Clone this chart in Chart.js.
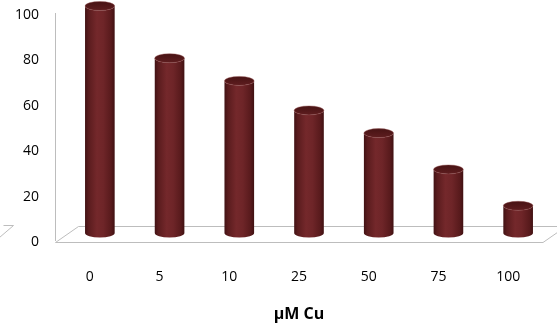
<!DOCTYPE html>
<html>
<head>
<meta charset="utf-8">
<script src="https://cdn.jsdelivr.net/npm/chart.js@4/dist/chart.umd.min.js"></script>
<style>
  html, body { margin: 0; padding: 0; background: #ffffff; }
  canvas { display: block; }
</style>
</head>
<body>
<canvas id="chart" width="557" height="328"></canvas>
<script>
// Copper concentration series
const categories = ['0', '5', '10', '25', '50', '75', '100'];
const values = [100, 77, 67, 54, 44, 28, 12];
const yTicks = [0, 20, 40, 60, 80, 100];
const axisTitle = 'μM Cu';

// Oblique projection used for the floor and the cylinder placement
const DEPTH_X = 23;
const DEPTH_Y = 16;
const LINE_GREY = '#bdbdbd';

// Floor plane drawn behind the cylinders
const floorPlugin = {
  id: 'floor',
  beforeDatasetsDraw(chart) {
    const { ctx, chartArea, scales } = chart;
    const f = Math.round(scales.y.getPixelForValue(0)) + 2.5;
    const l = chartArea.left + 0.5;
    const r = chartArea.right;
    ctx.save();
    ctx.strokeStyle = LINE_GREY;
    ctx.lineWidth = 1;
    ctx.beginPath();
    ctx.moveTo(l, f);
    ctx.lineTo(r, f);
    ctx.lineTo(r + DEPTH_X, f - DEPTH_Y);
    ctx.lineTo(l + DEPTH_X, f - DEPTH_Y);
    ctx.closePath();
    ctx.stroke();
    // small corner piece at the far left edge
    ctx.beginPath();
    ctx.moveTo(l - 52, f - 17);
    ctx.lineTo(l - 42, f - 17);
    ctx.lineTo(l - 56, f - 5);
    ctx.stroke();
    ctx.restore();
  }
};

// Cylinders drawn from each bar element's own geometry
const cylinderPlugin = {
  id: 'cylinders',
  afterDatasetsDraw(chart) {
    const { ctx } = chart;
    const meta = chart.getDatasetMeta(0);
    ctx.save();
    meta.data.forEach((el) => {
      const p = el.getProps(['x', 'y', 'base', 'width'], true);
      const cx = p.x + DEPTH_X / 2 - 1.5;
      const shift = -DEPTH_Y / 2 + 1;
      const top = p.y + shift;
      const base = p.base + shift;
      const rx = p.width / 2;
      const ry = 4.5;

      const g = ctx.createLinearGradient(cx - rx, 0, cx + rx, 0);
      g.addColorStop(0, '#421214');
      g.addColorStop(0.12, '#5a1c1e');
      g.addColorStop(0.4, '#74282b');
      g.addColorStop(0.62, '#6e2528');
      g.addColorStop(0.88, '#581a1c');
      g.addColorStop(1, '#401112');

      ctx.beginPath();
      ctx.moveTo(cx - rx, top);
      ctx.lineTo(cx - rx, base);
      ctx.ellipse(cx, base, rx, ry, 0, Math.PI, 0, true);
      ctx.lineTo(cx + rx, top);
      ctx.ellipse(cx, top, rx, ry, 0, 0, Math.PI, false);
      ctx.closePath();
      ctx.fillStyle = g;
      ctx.fill();

      const gt = ctx.createLinearGradient(0, top - ry, 0, top + ry);
      gt.addColorStop(0, '#471314');
      gt.addColorStop(1, '#5e1d1f');
      ctx.beginPath();
      ctx.ellipse(cx, top, rx, ry, 0, 0, Math.PI * 2);
      ctx.fillStyle = gt;
      ctx.fill();
      ctx.strokeStyle = 'rgba(150,80,80,0.5)';
      ctx.lineWidth = 0.8;
      ctx.stroke();
    });
    ctx.restore();
  }
};

Chart.defaults.color = '#000000';
Chart.defaults.font.family = '"Open Sans", "Noto Sans", sans-serif';

new Chart(document.getElementById('chart'), {
  type: 'bar',
  data: {
    labels: categories,
    datasets: [{
      data: values,
      backgroundColor: 'rgba(0,0,0,0)',
      borderWidth: 0,
      barPercentage: 0.85,
      categoryPercentage: 0.5
    }]
  },
  options: {
    responsive: false,
    animation: false,
    devicePixelRatio: 1,
    layout: { padding: { top: 13, right: 14, bottom: 0, left: 0 } },
    plugins: { legend: { display: false }, tooltip: { enabled: false } },
    scales: {
      x: {
        grid: { display: false, drawTicks: false },
        border: { display: false },
        ticks: { padding: 29, font: { size: 14 } },
        title: {
          display: true,
          text: axisTitle,
          font: { size: 16, weight: 'bold' },
          padding: { top: 0, bottom: 4 }
        },
        afterFit(scale) { scale.height = 88; }
      },
      y: {
        min: 0,
        max: 100,
        grid: { display: false, drawTicks: false },
        border: { display: true, color: LINE_GREY, width: 1 },
        afterBuildTicks(scale) { scale.ticks = yTicks.map(v => ({ value: v })); },
        ticks: { padding: 16, labelOffset: 2, font: { size: 14 } },
        afterFit(scale) {
          scale.width = 55;
          scale.paddingTop = 0;
          scale.paddingBottom = 0;
        }
      }
    }
  },
  plugins: [floorPlugin, cylinderPlugin]
});
</script>
</body>
</html>
